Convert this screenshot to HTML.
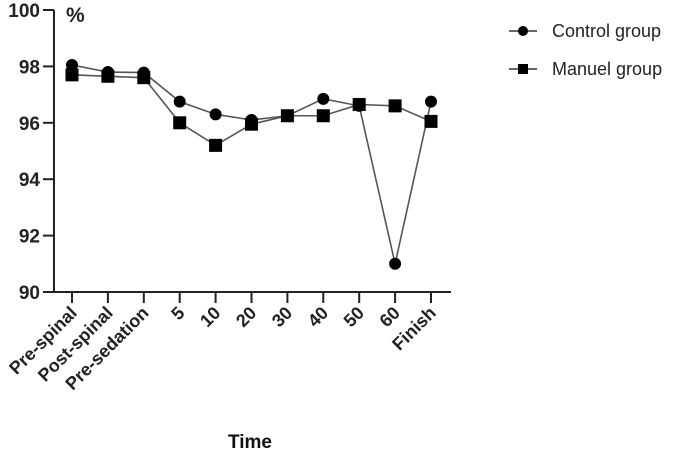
<!DOCTYPE html>
<html><head><meta charset="utf-8"><style>
body{margin:0;background:#fff}
svg{display:block;font-family:"Liberation Sans",Arial,sans-serif}
</style></head><body>
<svg id="chart" width="685" height="454">
<g id="axes"></g>
<g id="series"></g>
<text x="228" y="448" font-size="19" font-weight="bold" fill="#111">Time</text>
<text x="66" y="22" font-size="21" font-weight="bold" fill="#222">%</text>
<g>
<g>
<line x1="509" y1="31" x2="537" y2="31" stroke="#333" stroke-width="1.5"/>
<circle cx="523" cy="31" r="5" fill="#000"/>
<text x="552" y="37" font-size="18" fill="#222">Control group</text></g>
<g>
<line x1="509" y1="69" x2="537" y2="69" stroke="#333" stroke-width="1.5"/>
<rect x="518" y="64" width="10" height="10" fill="#000"/>
<text x="552" y="75" font-size="18" fill="#222">Manuel group</text></g>
</g>
</svg>
<script>
const categories=["Pre-spinal","Post-spinal","Pre-sedation","5","10","20","30","40","50","60","Finish"];
const controlValues=[98.05,97.8,97.78,96.75,96.3,96.1,96.25,96.85,96.6,91.0,96.75];
const manuelValues=[97.7,97.65,97.6,96.0,95.2,95.95,96.25,96.25,96.65,96.6,96.05];
const yTicks=[90,92,94,96,98,100];
const NS="http://www.w3.org/2000/svg";
function y(v){return 292-(v-90)*28.2;}
function x(i){return 72+i*35.9;}
function mk(t,a,p){const e=document.createElementNS(NS,t);for(const k in a)e.setAttribute(k,a[k]);p.appendChild(e);return e;}
const ax=document.getElementById('axes');
let l=mk('line',{x1:54,y1:y(100),x2:54,y2:292,stroke:'#222','stroke-width':2},ax);


l=mk('line',{x1:53,y1:292,x2:451,y2:292,stroke:'#222','stroke-width':2},ax);


yTicks.forEach(v=>{
 const t=mk('line',{x1:43,y1:y(v),x2:54,y2:y(v),stroke:'#222','stroke-width':2},ax);
 
 
 const tx=mk('text',{x:40,y:y(v)+7,'font-size':19,'font-weight':'bold','text-anchor':'end',fill:'#222'},ax);
 tx.textContent=v;
 
 
});
categories.forEach((c,i)=>{
 const t=mk('line',{x1:x(i),y1:292,x2:x(i),y2:303,stroke:'#222','stroke-width':2},ax);
 
 
 const tx=mk('text',{x:x(i)+6,y:314,'font-size':18,'font-weight':'bold','text-anchor':'end',fill:'#222',transform:`rotate(-45 ${x(i)+6} 314)`},ax);
 tx.textContent=c;
 
 
});
const sg=document.getElementById('series');
function line(vals,name){
 const p=mk('polyline',{points:vals.map((v,i)=>x(i)+','+y(v)).join(' '),fill:'none',stroke:'#555','stroke-width':1.6},sg);
 
 
}
line(manuelValues,'manuel-line');
line(controlValues,'control-line');
controlValues.forEach((v,i)=>{
 const c=mk('circle',{cx:x(i),cy:y(v),r:6,fill:'#000'},sg);
 
 
});
manuelValues.forEach((v,i)=>{
 const r=mk('rect',{x:x(i)-6.5,y:y(v)-6.5,width:13,height:13,fill:'#000'},sg);
 
 
});
</script>
</body></html>
